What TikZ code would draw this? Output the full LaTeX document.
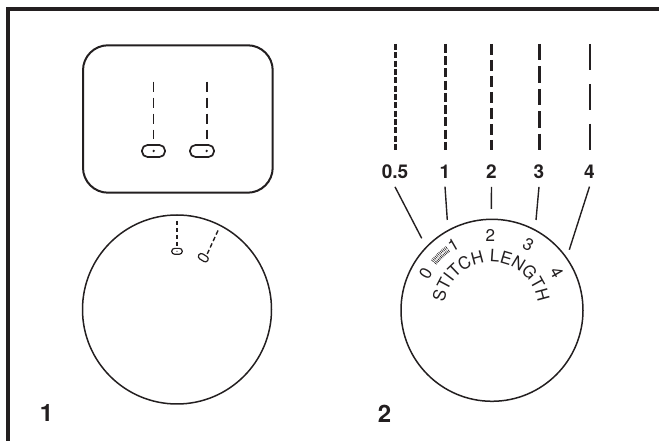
\documentclass[tikz,border=0pt]{standalone}
\usepackage{fontspec}
\setmainfont{TeX Gyre Heros}
\usetikzlibrary{calc, decorations.text}
\usepackage{xcolor}
\definecolor{InkCol}{HTML}{231F20}
\tikzset{
	panelnum/.style = {font = \bfseries\fontsize{24}{26}\selectfont, text = InkCol},
	lengthnum/.style = {font = \bfseries\fontsize{19}{21}\selectfont, text = InkCol, inner ysep = 8pt, inner xsep = 0pt},
	dialnum/.style = {font = \fontsize{17}{19}\selectfont, text = InkCol, inner sep = 0pt},
	slot/.style = {draw = InkCol, rounded corners = 2.8pt, inner sep = 0pt}
}

\begin{document}
\begin{tikzpicture}[x = 1pt, y = 1pt]
	\useasboundingbox (0, 0) rectangle (659, 441);
	\draw[InkCol, line width = 3.8pt] (8, 0) -- (8, 432.3) -- (659, 432.3);
	\begin{scope}
		\draw[InkCol, line width = 2pt, rounded corners = 25pt] (83, 248.3) rectangle (272.7, 395.7);
		\foreach \x/\d in {153.4/153.7, 206.7/206.7} {
				\draw[InkCol, line width = 1.7pt, dash pattern = on 10pt off 6pt] (\x, 359.3) -- (\x, 302);
				\fill[InkCol] (\d, 290) circle (1.3pt);
			}
		\node[slot, line width = 1.7pt, rounded corners = 5.5pt, minimum width = 23pt, minimum height = 12pt] (slotA) at (153.5, 290) {};
		\node[slot, line width = 1.7pt, rounded corners = 5.5pt, minimum width = 24pt, minimum height = 12pt] (slotB) at (202, 290) {};
		\draw[InkCol, line width = 1.5pt] (177, 131.5) circle (94.5);
		\draw[InkCol, line width = 1.4pt, dash pattern = on 4.4pt off 2.6pt] (177, 220) -- (177, 194.3);
		\draw[InkCol, line width = 1.4pt, dash pattern = on 4.5pt off 2.6pt] (218, 210.5) -- (207, 186.5);
		\node[slot, line width = 1.2pt, minimum width = 10.5pt, minimum height = 5.8pt] (slotC) at (177, 189.7) {};
		\node[slot, line width = 1.2pt, minimum width = 10.5pt, minimum height = 5.8pt, rotate = -32] (slotD) at (203.3, 183.3) {};
		\fill[InkCol] (177, 189.7) circle (0.6pt);
		\node[panelnum] (numA) at (46.5, 28.5) {1};
	\end{scope}
	\begin{scope}
		% stitch samples, top to bottom
		\foreach \x/\w/\on/\off in {395.3/3/6/2.33, 445.3/3/8.8/3.45, 491.3/3/10.7/5.3, 539.3/3/16.4/6, 590/2.2/26.5/13.3} {
				\draw[InkCol, line width = \w pt, dash pattern = on \on pt off \off pt] (\x, 397) -- (\x, 291);
			}
		\node[lengthnum] (lenA) at (395, 269.3) {0.5};
		\node[lengthnum] (lenB) at (445, 269.3) {1};
		\node[lengthnum] (lenC) at (491.5, 269.3) {2};
		\node[lengthnum] (lenD) at (539, 269.3) {3};
		\node[lengthnum] (lenE) at (589.5, 269.3) {4};
		\coordinate (markA) at (421.7, 202.7);
		\coordinate (markB) at (447.3, 221);
		\coordinate (markC) at (491.3, 232);
		\coordinate (markD) at (536, 221);
		\coordinate (markE) at (569.3, 191.3);
		\foreach \a/\b in {lenA/markA, lenB/markB, lenC/markC, lenD/markD, lenE/markE} {
				\draw[InkCol, line width = 1.4pt] (\a.south) -- (\b);
			}
		\draw[InkCol, line width = 1.5pt] (492, 130.7) circle (91);
		\node[dialnum, rotate = 60] (dialA) at (425.7, 167.7) {0};
		\node[dialnum, rotate = 30] (dialB) at (453.3, 196) {1};
		\node[dialnum] (dialC) at (490.3, 206) {2};
		\node[dialnum, rotate = -29] (dialD) at (528.3, 196) {3};
		\node[dialnum, rotate = -60] (dialE) at (556.7, 168.3) {4};
		\foreach \t in {36, 37.3, ..., 51} {
				\draw[InkCol, line width = 0.6pt] ($(492, 130.7) + (90 + \t:72)$) -- ($(492, 130.7) + (90 + \t:79)$);
			}
		\draw[white, line width = 0.6pt] ($(492, 130.7) + (125:75.5)$) arc (125:142:75.5);
		\path[decorate, decoration = {text along path, text = {|\fontsize{17}{19}\selectfont\color{InkCol}|STITCH LENGTH}, text align = center}] (491, 132) ++ (174:47) arc (174:6:47);
		\node[panelnum] (numB) at (384.5, 27.5) {2};
	\end{scope}
\end{tikzpicture}
\end{document}
